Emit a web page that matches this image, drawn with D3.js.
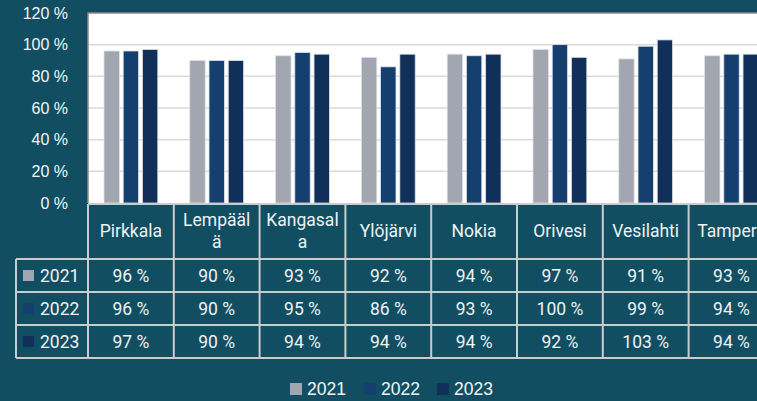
<!DOCTYPE html>
<html>
<head>
<meta charset="utf-8">
<script src="https://cdn.jsdelivr.net/npm/d3@7"></script>
<style>
  html, body { margin: 0; padding: 0; background: #114e62; overflow: hidden; }
  svg { display: block; }
</style>
</head>
<body>
<div id="chart"></div>
<script>
// data
const categories = ["Pirkkala", "Lempäälä", "Kangasala", "Ylöjärvi", "Nokia", "Orivesi", "Vesilahti", "Tampere"];
const headerLines = [["Pirkkala"], ["Lempääl", "ä"], ["Kangasal", "a"], ["Ylöjärvi"], ["Nokia"], ["Orivesi"], ["Vesilahti"], ["Tampere"]];
const years = ["2021", "2022", "2023"];
const values2021 = [96, 90, 93, 92, 94, 97, 91, 93];
const values2022 = [96, 90, 95, 86, 93, 100, 99, 94];
const values2023 = [97, 90, 94, 94, 94, 92, 103, 94];
const yTicks = [0, 20, 40, 60, 80, 100, 120];
const colors = ["#a1a6b1", "#143f6e", "#10305a"];

const series = [values2021, values2022, values2023];

const W = 757, H = 401;
const plotLeft = 88, plotTop = 13, plotBottom = 203;
const bandW = 85.8;
const plotRight = plotLeft + bandW * categories.length;

const svg = d3.select("#chart").append("svg")
    .attr("width", W)
    .attr("height", H);

const x = d3.scaleBand()
    .domain(categories)
    .range([plotLeft, plotRight])
    .paddingInner(0)
    .paddingOuter(0);

const xInner = d3.scaleBand()
    .domain(years)
    .range([16, bandW - 16])
    .paddingInner(0.2);

const y = d3.scaleLinear()
    .domain([0, 120])
    .range([plotBottom, plotTop]);

// plot background
svg.append("rect")
    .attr("x", plotLeft)
    .attr("y", plotTop)
    .attr("width", plotRight - plotLeft)
    .attr("height", plotBottom - plotTop)
    .attr("fill", "#ffffff");

// gridlines
svg.append("g")
    .selectAll("line")
    .data(yTicks.filter(d => d > 0 && d < 120))
    .enter()
    .append("line")
    .attr("x1", plotLeft)
    .attr("x2", plotRight)
    .attr("y1", d => y(d))
    .attr("y2", d => y(d))
    .attr("stroke", "#d9d9d9")
    .attr("stroke-width", 1.5);

// plot border (left + top)
svg.append("path")
    .attr("d", `M${plotLeft},${plotBottom}V${plotTop}H${plotRight}`)
    .attr("fill", "none")
    .attr("stroke", "#8a8a8a")
    .attr("stroke-width", 1.5);

// bars
const groups = svg.append("g")
    .selectAll("g")
    .data(categories)
    .enter()
    .append("g")
    .attr("transform", d => `translate(${x(d)},0)`);

groups.selectAll("rect")
    .data((d, i) => years.map((yr, j) => ({ year: yr, value: series[j][i], j })))
    .enter()
    .append("rect")
    .attr("x", d => xInner(d.year))
    .attr("y", d => y(d.value))
    .attr("width", xInner.bandwidth())
    .attr("height", d => y(0) - y(d.value))
    .attr("fill", d => colors[d.j])
    .attr("stroke", "#dde1e6")
    .attr("stroke-width", 0.8);

// y axis labels
const yAxis = svg.append("g")
    .attr("transform", `translate(${plotLeft - 20},0)`)
    .call(d3.axisLeft(y).tickValues(yTicks).tickSize(0).tickPadding(0).tickFormat(d => d + " %"));
yAxis.select(".domain").remove();
yAxis.selectAll("text")
    .attr("fill", "#f2f5f6")
    .style("font-family", "'Liberation Sans', Arial, sans-serif")
    .style("font-size", "16px");

// data table
const tableFont = "Roboto, 'Noto Sans', sans-serif";
const tableSize = "17.5px";
const headerTop = 204, headerBottom = 259;
const rowH = 33;
const tableLeft = 16;
const lineColor = "#c9cccd";
const table = svg.append("g");

// horizontal lines
const hLines = [headerTop, headerBottom, headerBottom + rowH, headerBottom + 2 * rowH, headerBottom + 3 * rowH];
table.selectAll(".hline")
    .data(hLines)
    .enter()
    .append("line")
    .attr("class", "hline")
    .attr("x1", (d, i) => i === 0 ? plotLeft : tableLeft)
    .attr("x2", plotRight)
    .attr("y1", d => d)
    .attr("y2", d => d)
    .attr("stroke", lineColor)
    .attr("stroke-width", 2);

// vertical lines
table.selectAll(".vline")
    .data(categories.concat(["end"]))
    .enter()
    .append("line")
    .attr("class", "vline")
    .attr("x1", d => d === "end" ? plotRight : x(d))
    .attr("x2", d => d === "end" ? plotRight : x(d))
    .attr("y1", headerTop)
    .attr("y2", headerBottom + 3 * rowH)
    .attr("stroke", lineColor)
    .attr("stroke-width", 2);

table.append("line")
    .attr("x1", tableLeft).attr("x2", tableLeft)
    .attr("y1", headerBottom).attr("y2", headerBottom + 3 * rowH)
    .attr("stroke", lineColor)
    .attr("stroke-width", 2);

// header text
categories.forEach((c, i) => {
    const lines = headerLines[i];
    const cx = x(c) + bandW / 2;
    const t = table.append("text")
        .attr("x", cx)
        .attr("text-anchor", "middle")
        .attr("fill", "#eef3f4")
        .style("font-family", tableFont)
        .style("font-size", tableSize);
    if (lines.length === 1) {
        t.append("tspan").attr("x", cx).attr("y", 237).text(lines[0]);
    } else {
        t.append("tspan").attr("x", cx).attr("y", 226).text(lines[0]);
        t.append("tspan").attr("x", cx).attr("y", 248).text(lines[1]);
    }
});

// rows
years.forEach((yr, j) => {
    const rowY = headerBottom + j * rowH;
    table.append("rect")
        .attr("x", 23)
        .attr("y", rowY + rowH / 2 - 5.5)
        .attr("width", 11)
        .attr("height", 11)
        .attr("fill", colors[j]);
    table.append("text")
        .attr("x", 40)
        .attr("y", rowY + rowH / 2 + 6)
        .attr("fill", "#eef3f4")
        .style("font-family", tableFont)
        .style("font-size", tableSize)
        .text(yr);
    table.selectAll(".cell" + j)
        .data(categories)
        .enter()
        .append("text")
        .attr("x", d => x(d) + bandW / 2)
        .attr("y", rowY + rowH / 2 + 6)
        .attr("text-anchor", "middle")
        .attr("fill", "#eef3f4")
        .style("font-family", tableFont)
        .style("font-size", tableSize)
        .text((d, i) => series[j][i] + " %");
});

// legend
const legendX = [290, 364, 437];
const legend = svg.append("g");
years.forEach((yr, j) => {
    legend.append("rect")
        .attr("x", legendX[j])
        .attr("y", 383)
        .attr("width", 12)
        .attr("height", 12)
        .attr("fill", colors[j]);
    legend.append("text")
        .attr("x", legendX[j] + 17)
        .attr("y", 395)
        .attr("fill", "#f2f5f6")
        .style("font-family", "'Liberation Sans', Arial, sans-serif")
        .style("font-size", "17.5px")
        .text(yr);
});
</script>
</body>
</html>
